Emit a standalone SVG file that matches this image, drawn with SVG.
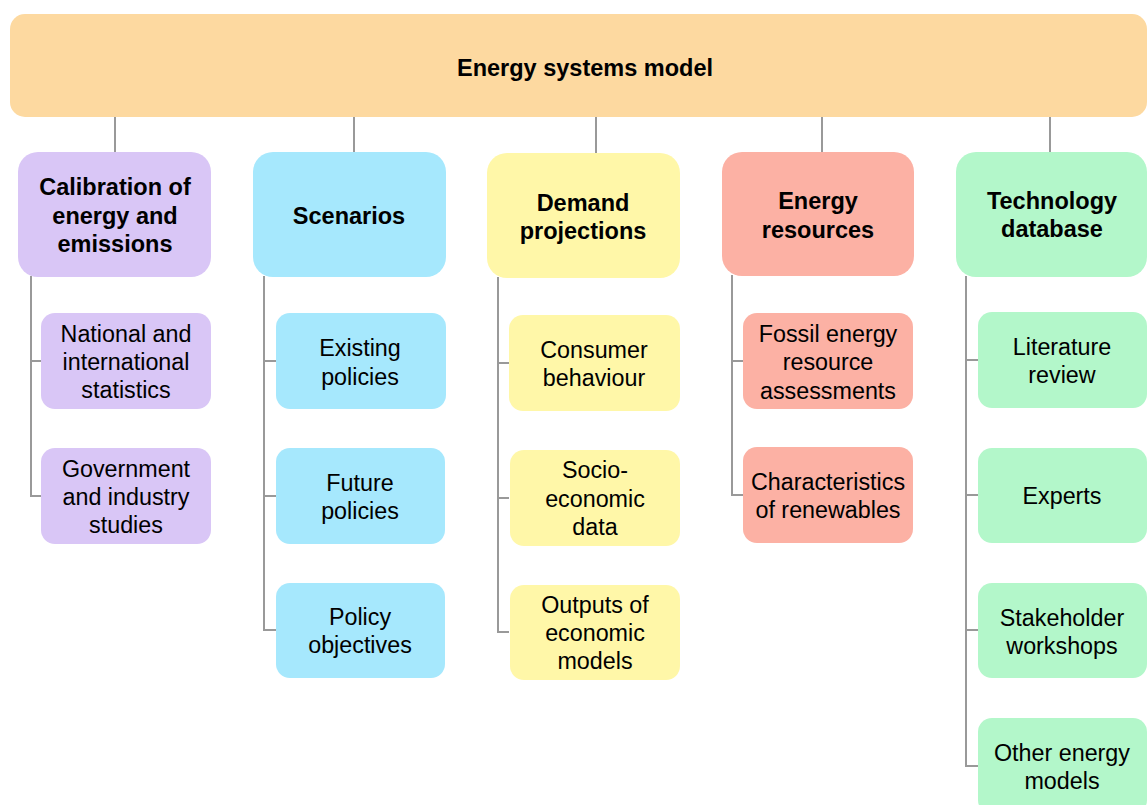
<svg xmlns="http://www.w3.org/2000/svg" width="1147" height="805" viewBox="0 0 1147 805">
<style>
text{font-family:"Liberation Sans",Arial,sans-serif;font-size:23.3px;fill:#000;text-anchor:middle}
.b{font-weight:bold;font-size:23.5px}
.c line,.c path{stroke:#999;stroke-width:2;fill:none}
.top{fill:#FDD9A0}
.pu{fill:#D9C6F6}
.bl{fill:#A6E8FD}
.ye{fill:#FFF7A8}
.re{fill:#FCB1A4}
.gr{fill:#B3F7CA}
</style>
<rect width="1147" height="805" fill="#fff"/>
<g class="c" id="connectors">
<line x1="115" y1="117" x2="115" y2="153"/>
<line x1="354" y1="117" x2="354" y2="153"/>
<line x1="596" y1="117" x2="596" y2="154"/>
<line x1="822" y1="117" x2="822" y2="153"/>
<line x1="1050" y1="117" x2="1050" y2="153"/>
<path d="M31 276 V496 H41 M31 361 H41"/>
<path d="M264 276 V630 H276 M264 361 H276 M264 496 H276"/>
<path d="M498 277 V632 H509 M498 363 H509 M498 498 H509"/>
<path d="M732 275 V495 H743 M732 361 H743"/>
<path d="M966 276 V766 H978 M966 360 H978 M966 495 H978 M966 630 H978"/>
</g>
<g id="root"><rect class="top" x="10" y="14" width="1137" height="103" rx="15"/><text class="b" x="585" y="76">Energy systems model</text></g>
<g id="cal"><rect class="pu" x="18" y="152" width="193" height="125" rx="20"/><text class="b" x="115" y="195">Calibration of</text><text class="b" x="115" y="224">energy and</text><text class="b" x="115" y="252">emissions</text></g>
<g id="scen"><rect class="bl" x="253" y="152" width="193" height="125" rx="20"/><text class="b" x="349" y="224">Scenarios</text></g>
<g id="dem"><rect class="ye" x="487" y="153" width="193" height="125" rx="20"/><text class="b" x="583" y="211">Demand</text><text class="b" x="583" y="239">projections</text></g>
<g id="res"><rect class="re" x="722" y="152" width="192" height="124" rx="20"/><text class="b" x="818" y="209">Energy</text><text class="b" x="818" y="238">resources</text></g>
<g id="tech"><rect class="gr" x="956" y="152" width="191" height="125" rx="20"/><text class="b" x="1052" y="209">Technology</text><text class="b" x="1052" y="237">database</text></g>

<g id="n1"><rect class="pu" x="41" y="313" width="170" height="96" rx="14"/><text x="126" y="342">National and</text><text x="126" y="370">international</text><text x="126" y="398">statistics</text></g>
<g id="n2"><rect class="pu" x="41" y="448" width="170" height="96" rx="14"/><text x="126" y="477">Government</text><text x="126" y="505">and industry</text><text x="126" y="533">studies</text></g>

<g id="s1"><rect class="bl" x="276" y="313" width="170" height="96" rx="14"/><text x="360" y="356">Existing</text><text x="360" y="385">policies</text></g>
<g id="s2"><rect class="bl" x="276" y="448" width="169" height="96" rx="14"/><text x="360" y="491">Future</text><text x="360" y="519">policies</text></g>
<g id="s3"><rect class="bl" x="276" y="583" width="169" height="95" rx="14"/><text x="360" y="625">Policy</text><text x="360" y="653">objectives</text></g>

<g id="d1"><rect class="ye" x="509" y="315" width="171" height="96" rx="14"/><text x="594" y="358">Consumer</text><text x="594" y="386">behaviour</text></g>
<g id="d2"><rect class="ye" x="510" y="450" width="170" height="96" rx="14"/><text x="595" y="478">Socio-</text><text x="595" y="507">economic</text><text x="595" y="535">data</text></g>
<g id="d3"><rect class="ye" x="510" y="585" width="170" height="95" rx="14"/><text x="595" y="613">Outputs of</text><text x="595" y="641">economic</text><text x="595" y="669">models</text></g>

<g id="r1"><rect class="re" x="743" y="313" width="170" height="96" rx="14"/><text x="828" y="342">Fossil energy</text><text x="828" y="370">resource</text><text x="828" y="399">assessments</text></g>
<g id="r2"><rect class="re" x="743" y="447" width="170" height="96" rx="14"/><text x="828" y="490">Characteristics</text><text x="828" y="518">of renewables</text></g>

<g id="t1"><rect class="gr" x="978" y="312" width="169" height="96" rx="14"/><text x="1062" y="355">Literature</text><text x="1062" y="383">review</text></g>
<g id="t2"><rect class="gr" x="978" y="448" width="169" height="95" rx="14"/><text x="1062" y="504">Experts</text></g>
<g id="t3"><rect class="gr" x="978" y="583" width="169" height="95" rx="14"/><text x="1062" y="626">Stakeholder</text><text x="1062" y="654">workshops</text></g>
<g id="t4"><rect class="gr" x="978" y="718" width="169" height="96" rx="14"/><text x="1062" y="761">Other energy</text><text x="1062" y="789">models</text></g>
</svg>
